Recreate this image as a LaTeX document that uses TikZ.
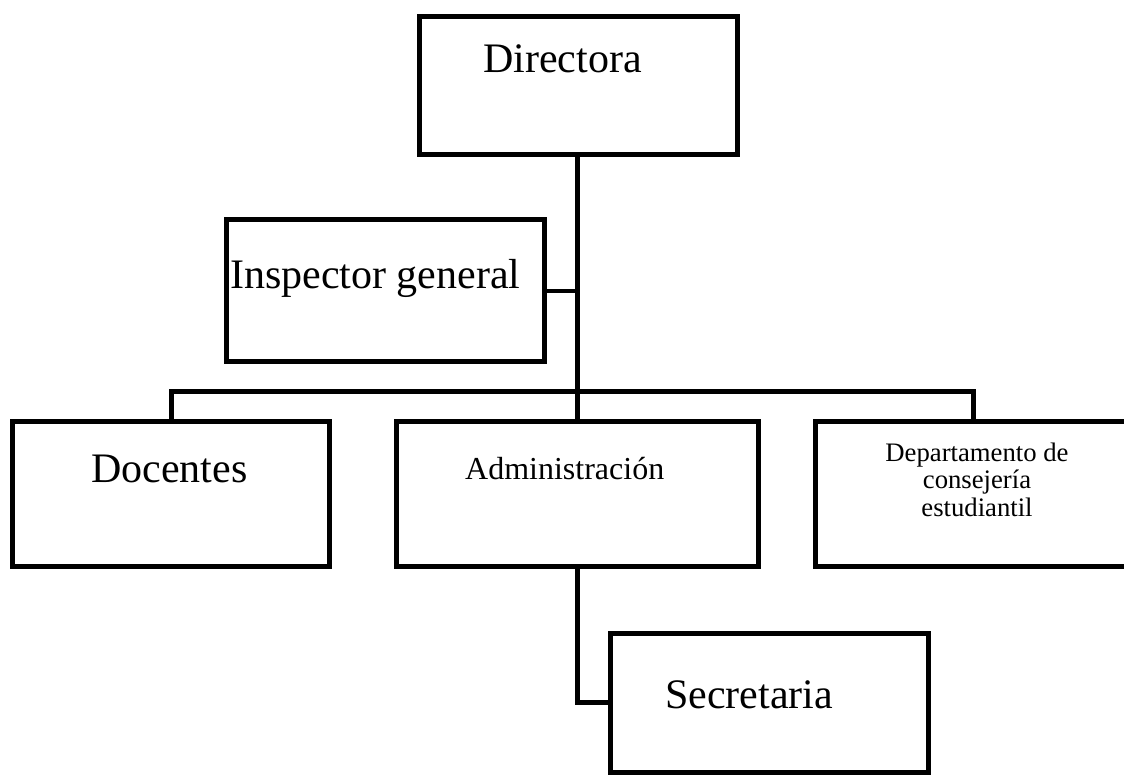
\documentclass[tikz,border=0pt]{standalone}
\usepackage{fontspec}
\setmainfont{Liberation Serif}
\begin{document}
\begin{tikzpicture}[x=1pt,y=-1pt,
  box/.style={draw=black,line width=5pt,inner sep=0pt,fill=none},
  conn/.style={draw=black,line width=5pt},
  big/.style={inner sep=0pt,font=\fontsize{42}{50}\selectfont},
  mid/.style={inner sep=0pt,font=\fontsize{32}{38}\selectfont},
  small/.style={inner sep=0pt,align=center,font=\fontsize{26.7}{27.5}\selectfont}]
\useasboundingbox (0,0) rectangle (1124,775);
% boxes
\node[box,minimum width=318pt,minimum height=138pt] (dir) at (578,86) {};
\node[box,minimum width=318pt,minimum height=142pt] (insp) at (385,291) {};
\node[box,minimum width=317.5pt,minimum height=145pt] (doc) at (171,493.5) {};
\node[box,minimum width=362pt,minimum height=145pt] (adm) at (577,493.5) {};
\node[box,minimum width=316pt,minimum height=145pt] (dept) at (973,493.5) {};
\node[box,minimum width=318pt,minimum height=139pt] (sec) at (769,702.5) {};
% texts
\node[big,anchor=base west] (dirT) at (483,73) {Directora};
\node[big,anchor=base west] (inspT) at (230,289) {Inspector general};
\node[big,anchor=base west] (docT) at (91,482) {Docentes};
\node[mid,anchor=base west] (admT) at (465,479) {Administración};
\node[small,anchor=base] (deptT) at (977,516) {Departamento de\\consejería\\estudiantil};
\node[big,anchor=base west] (secT) at (665,708) {Secretaria};
% connectors
\coordinate (bus) at (577,391);
\coordinate (inspJ) at (577,291);
\draw[conn] (dir.south -| adm.north) -- (adm.north);
\draw[conn,line width=4.5pt] (insp.east) -- (inspJ);
\draw[conn,line join=miter] (doc.north) |- (bus) -| (dept.north);
\draw[conn,line join=miter] (adm.south) |- (sec.west);
\end{tikzpicture}
\end{document}
